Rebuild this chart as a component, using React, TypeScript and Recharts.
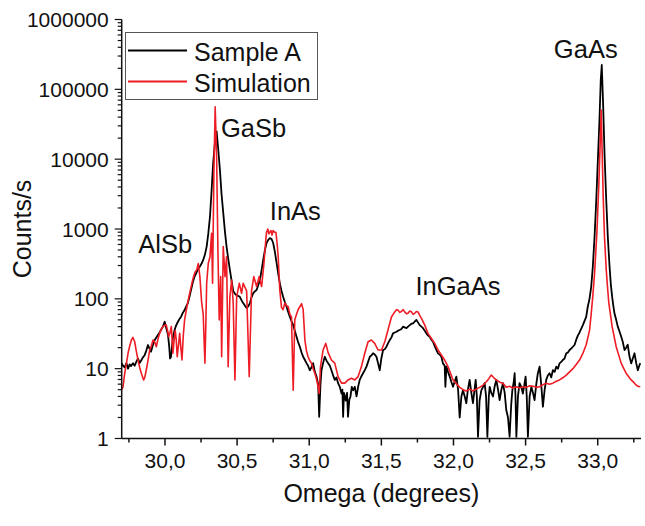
import { Label, Legend, Line, LineChart, ReferenceDot, XAxis, YAxis } from "recharts";

const FONT = '"Liberation Sans", Arial, sans-serif';

// Sample A (measured)
const sampleOmega = [
  29.7, 29.709, 29.721, 29.733, 29.744, 29.755, 29.765, 29.778, 29.79, 29.801,
  29.813, 29.824, 29.834, 29.847, 29.859, 29.87, 29.882, 29.894, 29.903, 29.917,
  29.929, 29.94, 29.952, 29.963, 29.972, 29.986, 29.998, 30.009, 30.021, 30.03,
  30.035, 30.042, 30.05, 30.055, 30.067, 30.078, 30.09, 30.102, 30.111, 30.122,
  30.136, 30.147, 30.159, 30.171, 30.183, 30.194, 30.206, 30.219, 30.231, 30.242,
  30.254, 30.265, 30.277, 30.289, 30.3, 30.312, 30.323, 30.334, 30.346, 30.358,
  30.369, 30.381, 30.392, 30.404, 30.416, 30.427, 30.438, 30.45, 30.462, 30.473,
  30.485, 30.497, 30.508, 30.519, 30.531, 30.542, 30.554, 30.566, 30.577, 30.589,
  30.6, 30.611, 30.623, 30.635, 30.646, 30.658, 30.67, 30.681, 30.693, 30.704,
  30.716, 30.727, 30.739, 30.75, 30.762, 30.774, 30.785, 30.796, 30.808, 30.819,
  30.831, 30.843, 30.854, 30.866, 30.877, 30.889, 30.9, 30.912, 30.923, 30.935,
  30.947, 30.958, 30.97, 30.981, 30.992, 31.004, 31.016, 31.027, 31.039, 31.051,
  31.062, 31.069, 31.078, 31.085, 31.096, 31.108, 31.12, 31.131, 31.143, 31.154,
  31.166, 31.177, 31.189, 31.2, 31.212, 31.224, 31.23, 31.235, 31.241, 31.253,
  31.262, 31.269, 31.278, 31.286, 31.295, 31.304, 31.316, 31.328, 31.339, 31.35,
  31.362, 31.373, 31.385, 31.397, 31.408, 31.42, 31.431, 31.443, 31.454, 31.466,
  31.477, 31.489, 31.5, 31.512, 31.524, 31.535, 31.546, 31.558, 31.57, 31.581,
  31.593, 31.605, 31.616, 31.627, 31.639, 31.651, 31.662, 31.674, 31.685, 31.697,
  31.709, 31.72, 31.731, 31.743, 31.754, 31.766, 31.778, 31.789, 31.801, 31.812,
  31.823, 31.835, 31.847, 31.858, 31.87, 31.882, 31.893, 31.904, 31.916, 31.927,
  31.939, 31.944, 31.951, 31.962, 31.974, 31.985, 31.997, 32.008, 32.02, 32.032,
  32.043, 32.055, 32.066, 32.078, 32.089, 32.1, 32.112, 32.124, 32.135, 32.146,
  32.154, 32.162, 32.17, 32.181, 32.193, 32.205, 32.216, 32.226, 32.235, 32.245,
  32.251, 32.262, 32.274, 32.285, 32.297, 32.309, 32.32, 32.332, 32.343, 32.355,
  32.366, 32.378, 32.389, 32.4, 32.408, 32.418, 32.424, 32.43, 32.436, 32.447,
  32.458, 32.47, 32.481, 32.492, 32.5, 32.508, 32.516, 32.528, 32.54, 32.551,
  32.562, 32.574, 32.585, 32.597, 32.608, 32.62, 32.632, 32.643, 32.654, 32.666,
  32.678, 32.689, 32.701, 32.713, 32.724, 32.735, 32.747, 32.758, 32.77, 32.782,
  32.793, 32.805, 32.817, 32.828, 32.84, 32.851, 32.863, 32.874, 32.885, 32.897,
  32.908, 32.92, 32.931, 32.943, 32.955, 32.966, 32.978, 32.99, 33.001, 33.012,
  33.021, 33.028, 33.038, 33.047, 33.059, 33.07, 33.082, 33.091, 33.1, 33.108,
  33.116, 33.128, 33.139, 33.151, 33.163, 33.174, 33.186, 33.197, 33.208, 33.22,
  33.232, 33.243, 33.255, 33.267, 33.278, 33.288, 33.295,
];
const sampleCounts = [
  12, 11, 10.5, 12, 10, 11.5, 10.9, 12, 11, 12.5,
  14, 12, 13, 14.5, 15.6, 18, 21.8, 19, 17.5, 22,
  25.7, 28, 30.5, 33, 35.8, 40, 47, 38, 30.5, 20,
  14, 14.8, 22, 28, 36, 42, 47, 52, 55, 62,
  69, 78, 87, 110, 140, 176, 210, 240, 270, 290,
  320, 360, 430, 560, 850, 1500, 3500, 8800, 17000, 25000,
  14000, 7000, 3200, 1700, 900, 560, 380, 260, 180, 130,
  118, 112, 110, 107, 95, 87, 80, 74, 78, 87,
  105, 120, 128, 134, 155, 186, 260, 360, 500, 630,
  700, 740, 720, 630, 470, 325, 230, 168, 130, 107,
  90, 77, 65, 55, 48, 42, 35, 28.6, 24, 20.6,
  17, 14.8, 13.3, 12, 11, 9.5, 10.5, 12, 9, 7.7,
  6, 2.05, 6, 9.5, 12, 14.8, 13, 12, 11, 9.5,
  8, 6.9, 7.5, 6.2, 5.5, 4.4, 5, 2.05, 4.5, 3.5,
  4.5, 2.05, 3.6, 4, 5.5, 4.9, 5.5, 4, 5.5, 6.9,
  7.8, 8.6, 9.5, 10.7, 12.5, 14.8, 15.5, 16.6, 16, 14.8,
  12, 9.5, 14, 18.5, 19, 20.6, 23, 25.7, 28, 32,
  33, 33.8, 35, 35.8, 37, 40, 39, 38, 40, 42,
  44, 44.6, 47, 50, 46, 42, 40, 38, 35, 32,
  30, 28.6, 26, 24.3, 21, 18.5, 16.5, 16, 14.8, 11.9,
  11, 5.5, 10.7, 9, 7.7, 6.5, 5.5, 6.5, 7.7, 5,
  2, 4, 4.9, 4, 3.2, 5, 6.9, 4.5, 3.2, 5,
  6.9, 4, 1.06, 3.5, 4.9, 5.5, 6.2, 4, 1.06, 4,
  5.5, 4.5, 4, 5.5, 6.9, 5, 3.55, 5, 6.2, 4.5,
  2.56, 2, 1.06, 3, 4.9, 6.5, 8.6, 4, 1.06, 4,
  6.2, 5.5, 4.4, 6, 7.7, 4, 1.06, 4, 5.5, 4.5,
  3.55, 6, 8.6, 10.7, 6, 2.85, 5, 6.9, 8, 8.6,
  7.5, 9.5, 9, 10.7, 10, 11.9, 12.5, 13.3, 14, 16.6,
  17, 18.5, 19.5, 20.6, 22, 26, 30, 33, 37, 42,
  48, 55, 77, 100, 150, 290, 770, 2600, 9800, 36000,
  136000, 223000, 56000, 12000, 2600, 770, 290, 160, 107, 80,
  62, 50, 40, 34, 28.6, 24, 18.5, 20, 22, 15,
  11.9, 14, 16.6, 12, 9.5, 11, 12,
];

// Simulation
const simOmega = [
  29.7, 29.709, 29.721, 29.733, 29.744, 29.755, 29.767, 29.778, 29.79, 29.801,
  29.813, 29.824, 29.836, 29.852, 29.86, 29.87, 29.882, 29.894, 29.905, 29.917,
  29.929, 29.94, 29.952, 29.963, 29.975, 29.986, 29.998, 30.009, 30.018, 30.026,
  30.035, 30.044, 30.05, 30.055, 30.063, 30.071, 30.078, 30.085, 30.094, 30.102,
  30.11, 30.118, 30.127, 30.136, 30.152, 30.171, 30.187, 30.196, 30.208, 30.22,
  30.231, 30.242, 30.254, 30.265, 30.277, 30.283, 30.289, 30.3, 30.312, 30.323,
  30.33, 30.339, 30.348, 30.358, 30.367, 30.376, 30.386, 30.393, 30.404, 30.416,
  30.427, 30.438, 30.45, 30.462, 30.473, 30.485, 30.497, 30.515, 30.531, 30.542,
  30.566, 30.584, 30.6, 30.616, 30.635, 30.653, 30.67, 30.686, 30.699, 30.704,
  30.713, 30.72, 30.727, 30.735, 30.742, 30.75, 30.76, 30.769, 30.778, 30.785,
  30.796, 30.808, 30.819, 30.831, 30.843, 30.854, 30.866, 30.877, 30.889, 30.9,
  30.912, 30.923, 30.935, 30.947, 30.958, 30.97, 30.981, 30.992, 31.004, 31.016,
  31.027, 31.039, 31.051, 31.062, 31.069, 31.078, 31.096, 31.115, 31.131, 31.154,
  31.177, 31.2, 31.224, 31.247, 31.269, 31.293, 31.316, 31.339, 31.362, 31.385,
  31.408, 31.431, 31.454, 31.477, 31.501, 31.524, 31.546, 31.57, 31.593, 31.605,
  31.616, 31.627, 31.639, 31.651, 31.662, 31.674, 31.685, 31.697, 31.709, 31.72,
  31.731, 31.743, 31.754, 31.766, 31.778, 31.801, 31.823, 31.847, 31.87, 31.893,
  31.916, 31.939, 31.962, 31.997, 32.043, 32.066, 32.089, 32.112, 32.135, 32.158,
  32.181, 32.205, 32.228, 32.245, 32.262, 32.28, 32.297, 32.32, 32.343, 32.366,
  32.389, 32.412, 32.436, 32.458, 32.481, 32.505, 32.528, 32.551, 32.574, 32.597,
  32.62, 32.643, 32.666, 32.689, 32.713, 32.735, 32.758, 32.782, 32.805, 32.828,
  32.851, 32.874, 32.897, 32.92, 32.943, 32.955, 32.966, 32.978, 32.994, 33.007,
  33.017, 33.024, 33.031, 33.038, 33.047, 33.059, 33.07, 33.077, 33.1, 33.128,
  33.163, 33.186, 33.197, 33.22, 33.232, 33.255, 33.267, 33.278, 33.295,
];
const simCounts = [
  5, 5.5, 8.6, 12, 16.6, 21, 25.7, 28, 24.3, 18,
  13.3, 10.5, 8.6, 6.9, 7.5, 9.5, 13, 18.5, 21, 25.7,
  24, 20.6, 27, 32, 37, 40, 42, 42, 35, 28.6,
  33, 40, 25, 16.6, 25, 35, 26, 14.8, 22, 32,
  20, 13.3, 30, 50, 77, 120, 168, 200, 240, 260,
  320, 208, 90, 60, 12, 40, 167, 320, 400, 870,
  167, 6300, 56000, 10900, 500, 50, 208, 14.8, 560, 208,
  400, 10.7, 107, 186, 87, 6.9, 107, 167, 120, 167,
  130, 7.7, 130, 208, 150, 208, 150, 320, 700, 900,
  1000, 850, 900, 950, 820, 950, 900, 900, 600, 400,
  134, 75, 70, 87, 80, 77, 60, 55, 4.9, 50,
  60, 70, 77, 85, 70, 25.7, 18, 14.8, 13, 12,
  10, 8.6, 7, 5.5, 4.4, 10.7, 18.5, 23, 17, 13.3,
  12, 7.7, 6.2, 6.2, 6.9, 7.3, 6.9, 7.7, 10.7, 16.6,
  24.3, 25.7, 23, 18.5, 18.5, 24.3, 35.8, 55, 65, 70,
  69, 64, 66, 70, 65, 61, 62, 67, 65, 60,
  62, 66, 65, 58, 52.6, 42, 32, 27, 23, 18.5,
  15.7, 13.3, 10.7, 6.9, 5.4, 5, 4.8, 5.1, 4.8, 5.1,
  5.4, 5.8, 6.5, 7.2, 8.1, 7.4, 6.9, 6.4, 6.2, 5.4,
  5.6, 5.3, 5.5, 5.3, 5.5, 5.4, 5.7, 5.6, 5.4, 5.5,
  5.9, 6.2, 6, 6.2, 6.6, 6.9, 7.4, 8.1, 9, 10,
  11.5, 13.3, 16.5, 22, 35, 62, 110, 230, 870, 4000,
  16600, 50600, 12000, 2900, 770, 260, 130, 87, 40, 20.6,
  11.9, 9.5, 8.6, 7.4, 6.9, 6.2, 5.8, 5.6, 5.5,
];

const xMajorTicks = [30, 30.5, 31, 31.5, 32, 32.5, 33];
const xAllTicks = [29.75, 30, 30.25, 30.5, 30.75, 31, 31.25, 31.5, 31.75, 32, 32.25, 32.5, 32.75, 33, 33.25];
const yMajorTicks = [1, 10, 100, 1000, 10000, 100000, 1000000];
const yAllTicks = yMajorTicks.flatMap((d) => (d < 1000000 ? [d, 2 * d, 3 * d, 4 * d, 5 * d, 6 * d, 7 * d, 8 * d, 9 * d] : [d]));

const peakNames = ["AlSb", "GaSb", "InAs", "InGaAs", "GaAs"];
const peakOmega = [29.815, 30.388, 30.727, 31.736, 32.696];
const peakCounts = [446, 20800, 1346, 113.5, 278600];

const sampleData = sampleOmega.map((omega, i) => ({ omega, counts: sampleCounts[i] }));
const simData = simOmega.map((omega, i) => ({ omega, counts: simCounts[i] }));

const AXIS = "#111";

function BottomTick({ x, y, payload }: any) {
  const major = xMajorTicks.includes(payload.value);
  return (
    <g>
      <line x1={x} y1={y} x2={x} y2={y + (major ? 7 : 4)} stroke={AXIS} strokeWidth={1.5} />
      {major && (
        <text x={x} y={y + 29} textAnchor="middle" fontSize={21} fontFamily={FONT} fill={AXIS}>
          {payload.value.toFixed(1).replace(".", ",")}
        </text>
      )}
    </g>
  );
}

function TopTick({ x, y, payload }: any) {
  const major = xMajorTicks.includes(payload.value);
  return <line x1={x} y1={y} x2={x} y2={y + (major ? 7 : 4)} stroke={AXIS} strokeWidth={1.5} />;
}

function LeftTick({ x, y, payload }: any) {
  const major = yMajorTicks.includes(payload.value);
  return (
    <g>
      <line x1={x} y1={y} x2={x - (major ? 7 : 4)} y2={y} stroke={AXIS} strokeWidth={1.2} />
      {major && (
        <text x={x - 13} y={y + 7.5} textAnchor="end" fontSize={21} fontFamily={FONT} fill={AXIS}>
          {payload.value}
        </text>
      )}
    </g>
  );
}

function RightTick({ x, y, payload }: any) {
  const major = yMajorTicks.includes(payload.value);
  return <line x1={x} y1={y} x2={x - (major ? 7 : 4)} y2={y} stroke={AXIS} strokeWidth={1.2} />;
}

function LegendBox({ payload }: any) {
  return (
    <svg width={193} height={68} style={{ display: "block" }}>
      <rect x={0.5} y={0.5} width={192} height={67} fill="#fff" stroke="#555" strokeWidth={1} />
      {(payload || []).map((entry: any, i: number) => (
        <g key={entry.value}>
          <line x1={3} y1={18.5 + i * 31} x2={62} y2={18.5 + i * 31} stroke={entry.color} strokeWidth={2.2} />
          <text x={69} y={28.5 + i * 31} fontSize={25} fontFamily={FONT} fill="#111">
            {entry.value}
          </text>
        </g>
      ))}
    </svg>
  );
}

export default function App() {
  return (
    <div style={{ position: "absolute", left: 0, top: 0, background: "#fff" }}>
      <LineChart width={645} height={526} margin={{ top: 19.5, right: 4, bottom: 27.5, left: 21.7 }}>
        <XAxis
          dataKey="omega"
          type="number"
          domain={[29.7, 33.3]}
          allowDataOverflow
          ticks={xAllTicks}
          interval={0}
          tickSize={0}
          tickMargin={0}
          tickLine={false}
          tick={<BottomTick />}
          axisLine={{ stroke: AXIS, strokeWidth: 1.5 }}
          height={60}
        >
          <Label
            content={({ viewBox }: any) => (
              <text
                x={viewBox.x + viewBox.width / 2}
                y={viewBox.y + 63.5}
                textAnchor="middle"
                fontSize={25}
                fontFamily={FONT}
                fill={AXIS}
              >
                Omega (degrees)
              </text>
            )}
          />
        </XAxis>
        <XAxis
          xAxisId="top"
          orientation="top"
          dataKey="omega"
          type="number"
          domain={[29.7, 33.3]}
          allowDataOverflow
          ticks={xAllTicks}
          interval={0}
          tickSize={0}
          tickMargin={0}
          tickLine={false}
          tick={<TopTick />}
          axisLine={{ stroke: AXIS, strokeWidth: 1.5 }}
          height={0}
        />
        <YAxis
          type="number"
          scale="log"
          domain={[1, 1000000]}
          allowDataOverflow
          ticks={yAllTicks}
          interval={0}
          tickSize={0}
          tickMargin={0}
          tickLine={false}
          tick={<LeftTick />}
          axisLine={{ stroke: AXIS, strokeWidth: 1.5 }}
          width={100}
        >
          <Label
            content={({ viewBox }: any) => {
              const cx = viewBox.x + 9.5;
              const cy = viewBox.y + viewBox.height / 2;
              return (
                <text
                  x={cx}
                  y={cy}
                  transform={`rotate(-90, ${cx}, ${cy})`}
                  textAnchor="middle"
                  fontSize={25}
                  fontFamily={FONT}
                  fill={AXIS}
                >
                  Counts/s
                </text>
              );
            }}
          />
        </YAxis>
        <YAxis
          yAxisId="right"
          orientation="right"
          type="number"
          scale="log"
          domain={[1, 1000000]}
          allowDataOverflow
          ticks={yAllTicks}
          interval={0}
          tickSize={0}
          tickMargin={0}
          tickLine={false}
          tick={<RightTick />}
          axisLine={{ stroke: AXIS, strokeWidth: 1.5 }}
          width={0}
        />
        <Legend
          layout="horizontal"
          verticalAlign="middle"
          align="center"
          wrapperStyle={{ left: 125, top: 31.5, width: 193, height: 68 }}
          content={<LegendBox />}
        />
        {/* invisible series so that the frame axes (top / right) get a domain */}
        <Line
          xAxisId="top"
          yAxisId="right"
          data={sampleData}
          dataKey="counts"
          stroke="none"
          dot={false}
          legendType="none"
          isAnimationActive={false}
        />
        <Line
          name="Sample A"
          data={sampleData}
          dataKey="counts"
          type="linear"
          stroke="#000"
          strokeWidth={1.8}
          strokeLinejoin="round"
          dot={false}
          isAnimationActive={false}
        />
        <Line
          name="Simulation"
          data={simData}
          dataKey="counts"
          type="linear"
          stroke="#ee1c25"
          strokeWidth={1.6}
          strokeLinejoin="round"
          dot={false}
          isAnimationActive={false}
        />
        {peakNames.map((name, i) => (
          <ReferenceDot
            key={name}
            x={peakOmega[i]}
            y={peakCounts[i]}
            r={0}
            ifOverflow="visible"
            shape={(p: any) => (
              <text x={p.cx} y={p.cy} fontSize={25.5} fontFamily={FONT} fill="#111">
                {name}
              </text>
            )}
          />
        ))}
      </LineChart>
    </div>
  );
}
